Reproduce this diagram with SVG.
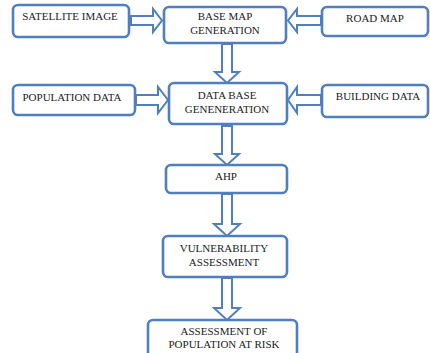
<svg xmlns="http://www.w3.org/2000/svg" width="430" height="353" viewBox="0 0 430 353">
<style>
.box{fill:#fff;stroke:#4f7fbf;stroke-width:2.6}
.arr{fill:#fff;stroke:#4f7fbf;stroke-width:2;stroke-linejoin:miter}
text{font-family:"Liberation Serif","Times New Roman",serif;font-size:11px;fill:#222;text-anchor:middle}
</style>
<rect width="430" height="353" fill="#fff"/>
<g id="connectors">
<polygon class="arr" points="131,16 153,16 153,9 162,20.5 153,32 153,25 131,25"/>
<polygon class="arr" points="321,16 297,16 297,9 288,20.5 297,32 297,25 321,25"/>
<polygon class="arr" points="222,44 232,44 232,72 239,72 227,83 215,72 222,72"/>
<polygon class="arr" points="136,95 158,95 158,87 168,100 158,113 158,105 136,105"/>
<polygon class="arr" points="321,95 297,95 297,87 288,100 297,113 297,105 321,105"/>
<polygon class="arr" points="222,126 232,126 232,154 239,154 227,165 215,154 222,154"/>
<polygon class="arr" points="222,194 232,194 232,224 240,224 227,236 214,224 222,224"/>
<polygon class="arr" points="222,278 232,278 232,308 240,308 227,320 214,308 222,308"/>
</g>
<g id="satellite"><rect class="box" x="13" y="5" width="116" height="32" rx="5"/><text x="70" y="20">SATELLITE IMAGE</text></g>
<g id="basemap"><rect class="box" x="164" y="7" width="122" height="36" rx="5"/><text x="225" y="20">BASE MAP</text><text x="225" y="34">GENERATION</text></g>
<g id="roadmap"><rect class="box" x="322" y="7" width="106" height="29" rx="5"/><text x="375" y="22">ROAD MAP</text></g>
<g id="population"><rect class="box" x="13" y="85" width="122" height="30" rx="5"/><text x="72" y="101">POPULATION DATA</text></g>
<g id="database"><rect class="box" x="169" y="83" width="118" height="41" rx="5"/><text x="227" y="99">DATA BASE</text><text x="227" y="113">GENENERATION</text></g>
<g id="building"><rect class="box" x="322" y="85" width="106" height="32" rx="5"/><text x="378" y="100">BUILDING DATA</text></g>
<g id="ahp"><rect class="box" x="166" y="165" width="121" height="28" rx="5"/><text x="226" y="180">AHP</text></g>
<g id="vulnerability"><rect class="box" x="163" y="236" width="124" height="41" rx="5"/><text x="224" y="252">VULNERABILITY</text><text x="224" y="266">ASSESSMENT</text></g>
<g id="risk"><rect class="box" x="148" y="320" width="149" height="40" rx="5"/><text x="224" y="335">ASSESSMENT OF</text><text x="224" y="348">POPULATION AT RISK</text></g>
</svg>
